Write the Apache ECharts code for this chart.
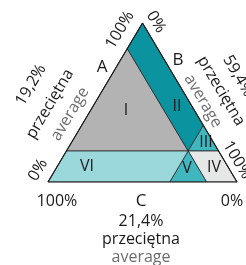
<!DOCTYPE html>
<html>
<head>
<meta charset="utf-8">
<script src="https://cdn.jsdelivr.net/npm/echarts@6/dist/echarts.min.js"></script>
<style>
  html, body { margin: 0; padding: 0; background: #fff; }
  #chart { width: 246px; height: 265px; }
</style>
</head>
<body>
<div id="chart"></div>
<script>
/**
 * ternary chart data
 */
// components: A (top), B (bottom right), C (bottom left)
var components = ['A', 'B', 'C'];
// average labels as printed
var averageLabels = ['19,2%', '59,4%', '21,4%'];
// average point as drawn (a, b, c)
var avgPoint = [0.195, 0.644, 0.161];
var regionNames = ['I', 'II', 'III', 'IV', 'V', 'VI'];
var regionColors = ['#b3b3b3', '#0b949f', '#40b6bf', '#e6e7e7', '#40b6bf', '#9bd8dc'];

var a0 = avgPoint[0], b0 = avgPoint[1], c0 = avgPoint[2];

/**
 * ternary (a,b,c) -> cartesian [x,y]
 */
function tern(a, b, c) {
    return [b + a / 2, a];
}

// region polygons built from the average point
var P = tern(a0, b0, c0);
var regions = [
    [tern(1 - c0, 0, c0), P, tern(a0, 0, 1 - a0)],
    [tern(1, 0, 0), tern(1 - c0, 0, c0), P, tern(1 - b0, b0, 0)],
    [P, tern(1 - b0, b0, 0), tern(a0, 1 - a0, 0)],
    [P, tern(a0, 1 - a0, 0), tern(0, 1, 0), tern(0, 1 - c0, c0)],
    [P, tern(0, 1 - c0, c0), tern(0, b0, 1 - b0)],
    [tern(a0, 0, 1 - a0), P, tern(0, b0, 1 - b0), tern(0, 0, 1)]
];
var outline = [tern(0, 0, 1), tern(0, 1, 0), tern(1, 0, 0), tern(0, 0, 1)];

var chart = echarts.init(document.getElementById('chart'));

var font = '"Open Sans", sans-serif';
var rot = Math.atan2(159, 94.5);

function txt(text, x, y, r, size, color) {
    return {
        type: 'text',
        x: x, y: y,
        rotation: r,
        style: {
            text: text,
            fill: color || '#1a1a1a',
            font: (size || 16) + 'px ' + font,
            align: 'center',
            verticalAlign: 'middle'
        },
        z: 10
    };
}

var graphics = [
    // left side
    txt('100%', 120, 30, rot),
    txt('0%', 38, 170, rot),
    txt(components[0], 102, 67, 0, 17),
    txt(averageLabels[0], 31, 85, rot),
    txt('przeciętna', 50, 104, rot),
    txt('average', 70, 114, rot, 16, '#6d6d6d'),
    // right side
    txt('0%', 156, 22, -rot),
    txt('100%', 237, 160, -rot),
    txt(components[1], 178, 60, 0, 17),
    txt(averageLabels[1], 238, 76, -rot),
    txt('przeciętna', 221, 91, -rot),
    txt('average', 203, 101, -rot, 16, '#6d6d6d'),
    // bottom
    txt('100%', 57, 201, 0),
    txt('0%', 232, 201, 0),
    txt(components[2], 141, 201, 0, 17),
    txt(averageLabels[2], 141, 221, 0),
    txt('przeciętna', 141, 239, 0),
    txt('average', 141, 257, 0, 16, '#6d6d6d'),
    // regions
    txt(regionNames[0], 126, 110, 0),
    txt(regionNames[1], 177, 106, 0),
    txt(regionNames[2], 206, 142, 0),
    txt(regionNames[3], 214, 167, 0),
    txt(regionNames[4], 187, 168, 0),
    txt(regionNames[5], 87, 166, 0)
];

var option = {
    animation: false,
    grid: { left: 48, right: 9, top: 23, bottom: 83 },
    xAxis: { type: 'value', min: 0, max: 1, show: false },
    yAxis: { type: 'value', min: 0, max: 1, show: false },
    graphic: graphics,
    series: [
        {
            type: 'custom',
            data: regions.map(function (r, i) { return [i]; }),
            renderItem: function (params, api) {
                var idx = api.value(0);
                var pts = regions[idx].map(function (p) { return api.coord(p); });
                return {
                    type: 'polygon',
                    shape: { points: pts },
                    style: {
                        fill: regionColors[idx],
                        stroke: '#2a2a2a',
                        lineWidth: 0.8
                    }
                };
            },
            silent: true
        },
        {
            type: 'line',
            data: outline,
            symbol: 'none',
            lineStyle: { color: '#1a1a1a', width: 1.2 },
            silent: true,
            z: 5
        }
    ]
};
chart.setOption(option);
</script>
</body>
</html>
